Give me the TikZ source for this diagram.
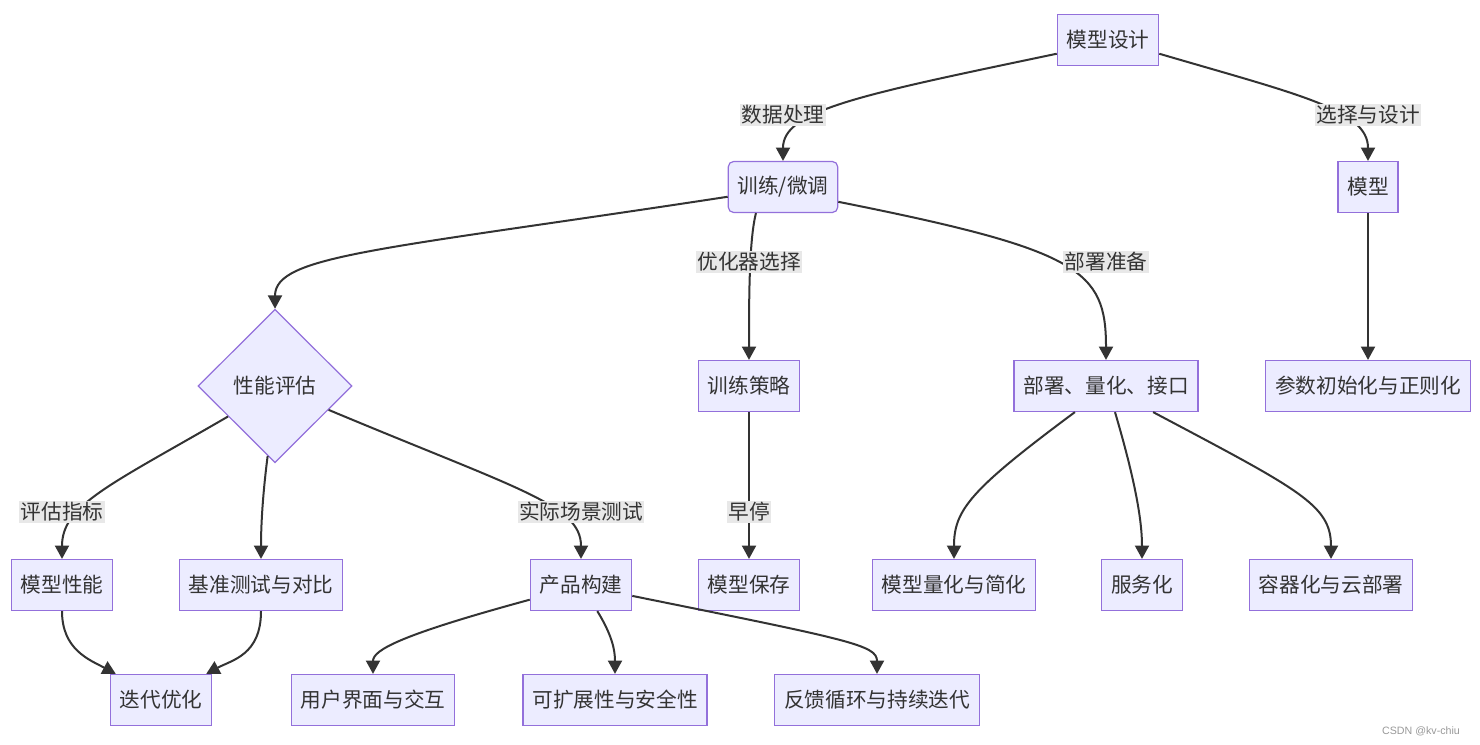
\documentclass[tikz,border=0pt]{standalone}
\usepackage{fontspec}
\setmainfont{Noto Sans CJK SC}
\newfontfamily\markfont{Liberation Sans}
\usetikzlibrary{shapes.geometric,arrows.meta}
\definecolor{nodefill}{HTML}{ECECFF}
\definecolor{nodeline}{HTML}{9370DB}
\definecolor{edgecol}{HTML}{333333}
\definecolor{labelbg}{HTML}{E8E8E8}
\tikzset{
  box/.style={draw=nodeline, fill=nodefill, line width=0.9pt, minimum height=38.25pt,
    inner xsep=7pt, text=edgecol, font=\fontsize{15.5}{18}\selectfont},
  rbox/.style={box, rounded corners=4pt},
  decision/.style={box, diamond, aspect=1, minimum width=115.5pt, minimum height=115pt, inner sep=0pt},
  flow/.style={draw=edgecol, line width=1.5pt, -{Triangle[length=10pt,width=10.5pt]}},
  elabel/.style={fill=labelbg, text=edgecol, inner sep=1pt, font=\fontsize{15.5}{18}\selectfont}
}
\begin{document}
\begin{tikzpicture}[x=0.75pt, y=-0.75pt]
            \fill [white] (0,0) rectangle (1480,745);
            \useasboundingbox (0,0) rectangle (1480,745);
            \node [box] (design) at (1108,40) {模型设计};
            \node [rbox] (train) at (783,187) {训练/微调};
            \node [box] (mdl) at (1368,187) {模型};
            \node [decision] (perf) at (275,386) {性能评估};
            \node [box] (strat) at (749,386) {训练策略};
            \node [box] (deploy) at (1106,386) {部署、量化、接口};
            \node [box] (param) at (1368,386) {参数初始化与正则化};
            \node [box] (mperf) at (62,585) {模型性能};
            \node [box] (bench) at (261,585) {基准测试与对比};
            \node [box] (prod) at (581,585) {产品构建};
            \node [box] (save) at (749,585) {模型保存};
            \node [box] (quant) at (954,585) {模型量化与简化};
            \node [box] (serve) at (1142,585) {服务化};
            \node [box] (cont) at (1331,585) {容器化与云部署};
            \node [box] (iter) at (161,700) {迭代优化};
            \node [box] (ui) at (373,700) {用户界面与交互};
            \node [box] (scal) at (615,700) {可扩展性与安全性};
            \node [box] (fb) at (877,700) {反馈循环与持续迭代};
            \draw [flow] (design.195) .. controls (860,95) and (783,110) .. (train.north);
            \draw [flow] (design.-15) .. controls (1300,95) and (1368,110) .. (mdl.north);
            \draw [flow] (train.190) .. controls (380,250) and (275,255) .. (perf.north);
            \draw [flow] (train.-136) .. controls (749,240) and (749,300) .. (strat.north);
            \draw [flow] (train.-15) .. controls (1080,250) and (1106,270) .. (deploy.north);
            \draw [flow] (mdl.south) -- (param.north);
            \draw [flow] (perf.213) .. controls (110,485) and (62,505) .. (mperf.north);
            \draw [flow] (perf.-96) .. controls (262,500) and (261,530) .. (bench.north);
            \draw [flow] (perf.-24) .. controls (520,490) and (581,505) .. (prod.north);
            \draw [flow] (strat.south) -- (save.north);
            \draw [flow] (deploy.-140) .. controls (970,490) and (954,510) .. (quant.north);
            \draw [flow] (deploy.-71) .. controls (1135,480) and (1142,520) .. (serve.north);
            \draw [flow] (deploy.-29) .. controls (1300,490) and (1331,505) .. (cont.north);
            \draw [flow] (mperf.south) .. controls (62,650) and (90,660) .. (iter.150);
            \draw [flow] (bench.south) .. controls (261,655) and (232,660) .. (iter.30);
            \draw [flow] (prod.196) .. controls (400,635) and (373,650) .. (ui.north);
            \draw [flow] (prod.-58) .. controls (612,635) and (615,650) .. (scal.north);
            \draw [flow] (prod.-12) .. controls (850,640) and (877,645) .. (fb.north);
            \node [elabel] (l1) at (783,115) {数据处理};
            \node [elabel] (l2) at (1368,115) {选择与设计};
            \node [elabel] (l3) at (749,262) {优化器选择};
            \node [elabel] (l4) at (1106,262) {部署准备};
            \node [elabel] (l5) at (62,512) {评估指标};
            \node [elabel] (l6) at (581,512) {实际场景测试};
            \node [elabel] (l7) at (749,512) {早停};
            \node [text=black!40, font=\markfont\fontsize{8}{10}\selectfont] (mark) at (1421,731) {CSDN @kv-chiu};
\end{tikzpicture}
\end{document}
